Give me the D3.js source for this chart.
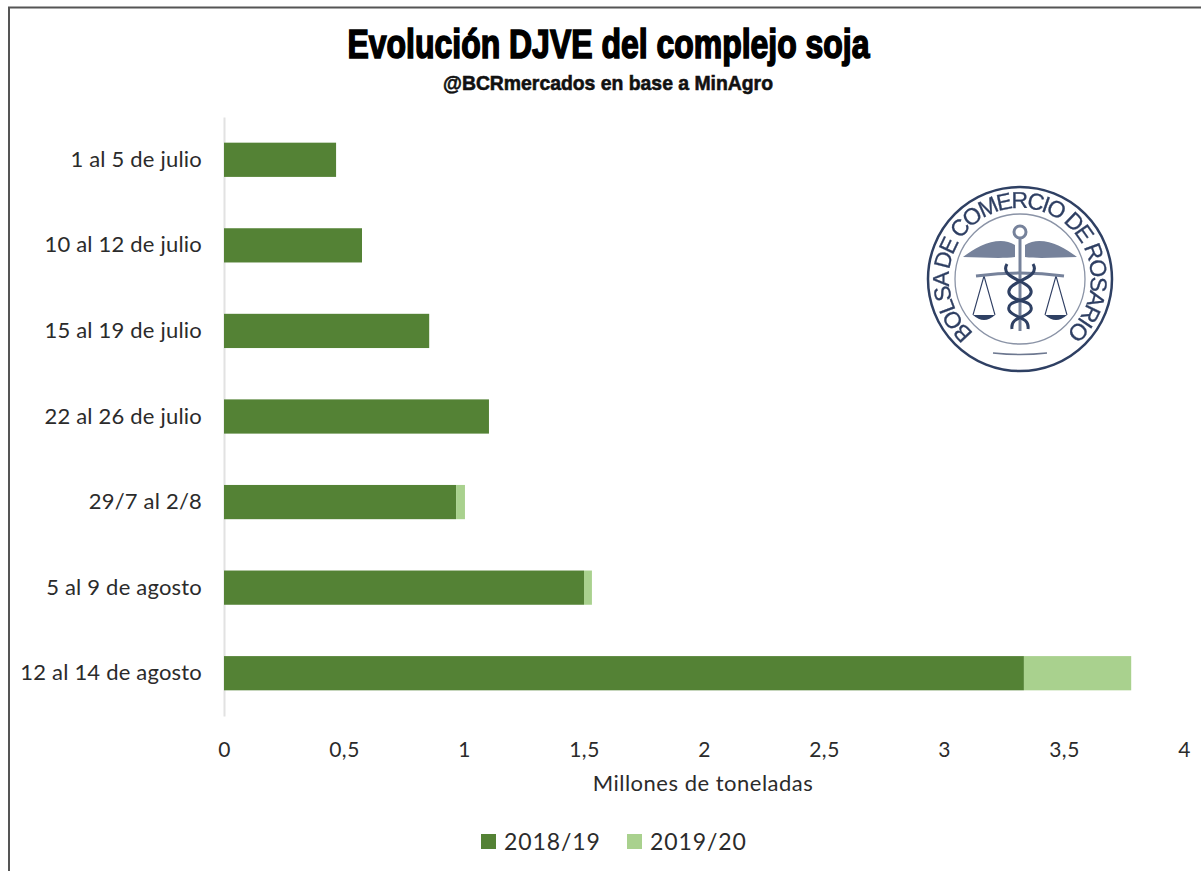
<!DOCTYPE html>
<html>
<head>
<meta charset="utf-8">
<script src="https://cdn.jsdelivr.net/npm/d3@7"></script>
<style>
  html, body { margin: 0; padding: 0; background: #fff; }
  svg { display: block; }
  text { font-family: Lato, "Open Sans", sans-serif; fill: #2b2b2b; }
</style>
</head>
<body>
<svg id="chart" width="1201" height="871"></svg>
<script>
const weeks = ["1 al 5 de julio", "10 al 12 de julio", "15 al 19 de julio", "22 al 26 de julio",
               "29/7 al 2/8", "5 al 9 de agosto", "12 al 14 de agosto"];
const campaign1819 = [0.467, 0.575, 0.855, 1.104, 0.967, 1.5, 3.333];
const campaign1920 = [0, 0, 0, 0, 0.037, 0.033, 0.447];
const seriesNames = ["2018/19", "2019/20"];
const seriesColors = ["#548235", "#a9d18e"];
const xTicks = [0, 0.5, 1, 1.5, 2, 2.5, 3, 3.5, 4];

const width = 1201;
const height = 871;
const margin = { left: 224, top: 117, right: 17, bottom: 155 };
const innerWidth = width - margin.left - margin.right;
const innerHeight = height - margin.top - margin.bottom;

const svg = d3.select("#chart");

// marco de la imagen original
svg.append("path")
   .attr("d", `M9,${height} V7.5 H${width}`)
   .attr("fill", "none")
   .attr("stroke", "#555")
   .attr("stroke-width", 2);

svg.append("text")
   .text("Evolución DJVE del complejo soja")
   .attr("x", 608.5).attr("y", 58)
   .attr("text-anchor", "middle")
   .attr("textLength", 522)
   .attr("lengthAdjust", "spacingAndGlyphs")
   .style("font-family", '"Liberation Sans Narrow", "Liberation Sans", sans-serif')
   .style("font-weight", 700)
   .style("font-size", "40px")
   .style("fill", "#000")
   .style("stroke", "#000")
   .style("stroke-width", 1.6);

svg.append("text")
   .text("@BCRmercados en base a MinAgro")
   .attr("x", 608).attr("y", 90)
   .attr("text-anchor", "middle")
   .attr("textLength", 330)
   .attr("lengthAdjust", "spacingAndGlyphs")
   .style("font-family", '"Liberation Sans Narrow", "Liberation Sans", sans-serif')
   .style("font-weight", 700)
   .style("font-size", "21px")
   .style("fill", "#111")
   .style("stroke", "#111")
   .style("stroke-width", 0.6);

const g = svg.append("g")
             .attr("transform", `translate(${margin.left}, ${margin.top})`);

const xScale = d3.scaleLinear().domain([0, 4]).range([0, innerWidth]);
const yScale = d3.scaleBand().domain(weeks).range([0, innerHeight]).paddingInner(0.6).paddingOuter(0.3);

const xAxis = d3.axisBottom(xScale)
                .tickValues(xTicks)
                .tickSize(0)
                .tickPadding(26)
                .tickFormat(d => String(d).replace(".", ","));
const yAxis = d3.axisLeft(yScale).tickSize(0).tickPadding(22);

const gx = g.append("g").attr("id", "x-axis")
            .attr("transform", `translate(0, ${innerHeight})`)
            .call(xAxis);
gx.select(".domain").remove();
gx.selectAll("text")
  .style("font-size", "21px")
  .style("letter-spacing", "0.5px")
  .style("font-family", "Lato, sans-serif")
  .attr("fill", "#2b2b2b");

const gy = g.append("g").attr("id", "y-axis").call(yAxis);
gy.select(".domain").attr("stroke", "#e2e2e2").attr("stroke-width", 2);
gy.selectAll("text")
  .style("font-size", "22px")
  .style("letter-spacing", "0.2px")
  .style("font-family", "Lato, sans-serif")
  .attr("fill", "#2b2b2b");

const stacked = weeks.map((w, i) => ({ week: w, a: campaign1819[i], b: campaign1920[i] }));

g.selectAll(".bar-a").data(stacked).enter().append("rect")
 .attr("class", "bar-a")
 .attr("x", xScale(0))
 .attr("y", d => yScale(d.week))
 .attr("width", d => xScale(d.a) - xScale(0))
 .attr("height", yScale.bandwidth())
 .attr("fill", seriesColors[0]);

g.selectAll(".bar-b").data(stacked.filter(d => d.b > 0)).enter().append("rect")
 .attr("class", "bar-b")
 .attr("x", d => xScale(d.a))
 .attr("y", d => yScale(d.week))
 .attr("width", d => xScale(d.a + d.b) - xScale(d.a))
 .attr("height", yScale.bandwidth())
 .attr("fill", seriesColors[1]);

svg.append("text")
   .text("Millones de toneladas")
   .attr("x", 703).attr("y", 791)
   .attr("text-anchor", "middle")
   .style("font-size", "22px")
   .style("letter-spacing", "0.5px");

const legendX = [481, 627];
const legend = svg.selectAll(".legend").data(seriesNames).enter().append("g")
                  .attr("class", "legend")
                  .attr("transform", (d, i) => `translate(${legendX[i]}, 834)`);
legend.append("rect").attr("width", 15).attr("height", 15).attr("fill", (d, i) => seriesColors[i]);
legend.append("text").text(d => d)
      .attr("x", 23).attr("y", 16)
      .style("font-size", "23px")
      .style("letter-spacing", "0.9px");

// sello de la Bolsa
const navy = "#2f3f63";
const grey = "#76829b";
const defs = svg.append("defs");
defs.append("filter").attr("id", "soft").append("feGaussianBlur").attr("stdDeviation", 0.5);

const seal = svg.append("g").attr("transform", "translate(1020, 279)").attr("filter", "url(#soft)");
seal.append("circle").attr("r", 92).attr("fill", "none").attr("stroke", navy).attr("stroke-width", 2.5);
seal.append("circle").attr("r", 65).attr("fill", "none").attr("stroke", "#8a93a6").attr("stroke-width", 1.3);
seal.append("path").attr("id", "seal-arc")
    .attr("d", "M-46,54 A71,71 0 1 1 46,54")
    .attr("fill", "none");
seal.append("text")
    .append("textPath")
    .attr("href", "#seal-arc")
    .attr("startOffset", "50%")
    .attr("text-anchor", "middle")
    .attr("textLength", 345)
    .text("BOLSA DE COMERCIO DE ROSARIO")
    .style("font-size", "23px")
    .style("font-family", '"Liberation Sans", sans-serif')
    .style("fill", navy)
    .style("stroke", navy)
    .style("stroke-width", 0.3);
// alas y balanza
[-1, 1].forEach(s => {
  seal.append("path")
      .attr("d", `M${s * 5},-34 C${s * 20},-44 ${s * 42},-34 ${s * 57},-22 C${s * 40},-22 ${s * 20},-20 ${s * 5},-22 Z`)
      .attr("fill", grey);
  seal.append("path")
      .attr("d", `M${s * 36},-3 L${s * 25},36 M${s * 36},-3 L${s * 47},36`)
      .attr("fill", "none").attr("stroke", navy).attr("stroke-width", 1.1);
  seal.append("path")
      .attr("d", `M${s * 25},36 H${s * 47} Q${s * 36},46 ${s * 25},36 Z`)
      .attr("fill", navy);
});
seal.append("path").attr("d", "M-44,-3 Q0,-9 44,-3").attr("fill", "none").attr("stroke", grey).attr("stroke-width", 3);
seal.append("line").attr("x1", 0).attr("x2", 0).attr("y1", -42).attr("y2", 52).attr("stroke", grey).attr("stroke-width", 3);
seal.append("circle").attr("cy", -47).attr("r", 6).attr("fill", "none").attr("stroke", grey).attr("stroke-width", 3);
// serpiente
seal.append("path")
    .attr("d", "M-13,-15 C-22,0 14,2 11,14 C8,24 -14,20 -11,31 C-8,39 10,37 8,50 M13,-15 C22,0 -14,2 -11,14 C-8,24 14,20 11,31 C8,39 -10,37 -8,50")
    .attr("fill", "none").attr("stroke", navy).attr("stroke-width", 3);
seal.append("path").attr("d", "M-27,74 Q0,77 27,74").attr("fill", "none").attr("stroke", "#6d7890").attr("stroke-width", 1.5);
</script>
</body>
</html>
